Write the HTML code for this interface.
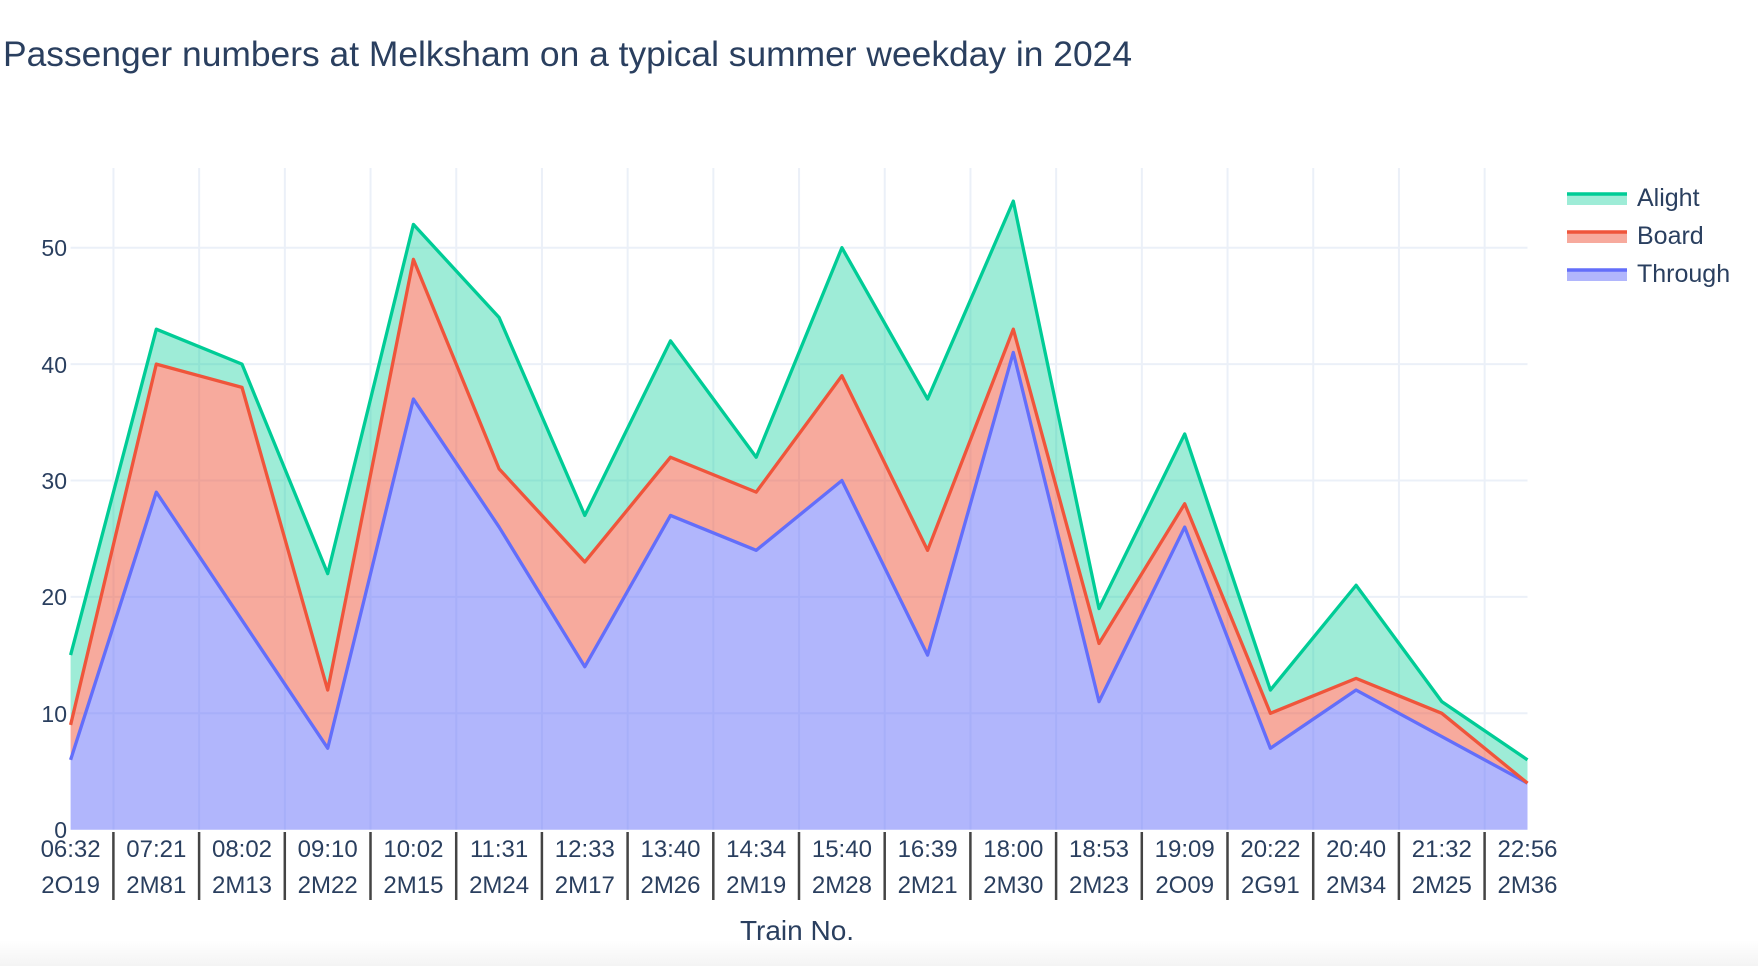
<!DOCTYPE html>
<html><head><meta charset="utf-8"><style>
html,body{margin:0;padding:0;background:#fff;}
body{width:1758px;height:966px;overflow:hidden;position:relative;font-family:"Liberation Sans",sans-serif;}
.bot{position:absolute;left:0;top:940px;width:1758px;height:26px;background:linear-gradient(#fff,#f4f4f4);}
</style></head><body>
<div class="bot"></div>
<svg width="1758" height="966" style="position:absolute;left:0;top:0" font-family="Liberation Sans, sans-serif" fill="#2a3f5f">
<text x="3" y="66" font-size="35" textLength="1129" lengthAdjust="spacingAndGlyphs">Passenger numbers at Melksham on a typical summer weekday in 2024</text>
<g transform="translate(70.6,829.7) scale(85.7,-11.64)">
<g stroke="#ebf0f8" stroke-width="2">
<line x1="0" x2="17" y1="10" y2="10" vector-effect="non-scaling-stroke"/>
<line x1="0" x2="17" y1="20" y2="20" vector-effect="non-scaling-stroke"/>
<line x1="0" x2="17" y1="30" y2="30" vector-effect="non-scaling-stroke"/>
<line x1="0" x2="17" y1="40" y2="40" vector-effect="non-scaling-stroke"/>
<line x1="0" x2="17" y1="50" y2="50" vector-effect="non-scaling-stroke"/>
<line x1="0.5" x2="0.5" y1="0" y2="56.85" vector-effect="non-scaling-stroke"/>
<line x1="1.5" x2="1.5" y1="0" y2="56.85" vector-effect="non-scaling-stroke"/>
<line x1="2.5" x2="2.5" y1="0" y2="56.85" vector-effect="non-scaling-stroke"/>
<line x1="3.5" x2="3.5" y1="0" y2="56.85" vector-effect="non-scaling-stroke"/>
<line x1="4.5" x2="4.5" y1="0" y2="56.85" vector-effect="non-scaling-stroke"/>
<line x1="5.5" x2="5.5" y1="0" y2="56.85" vector-effect="non-scaling-stroke"/>
<line x1="6.5" x2="6.5" y1="0" y2="56.85" vector-effect="non-scaling-stroke"/>
<line x1="7.5" x2="7.5" y1="0" y2="56.85" vector-effect="non-scaling-stroke"/>
<line x1="8.5" x2="8.5" y1="0" y2="56.85" vector-effect="non-scaling-stroke"/>
<line x1="9.5" x2="9.5" y1="0" y2="56.85" vector-effect="non-scaling-stroke"/>
<line x1="10.5" x2="10.5" y1="0" y2="56.85" vector-effect="non-scaling-stroke"/>
<line x1="11.5" x2="11.5" y1="0" y2="56.85" vector-effect="non-scaling-stroke"/>
<line x1="12.5" x2="12.5" y1="0" y2="56.85" vector-effect="non-scaling-stroke"/>
<line x1="13.5" x2="13.5" y1="0" y2="56.85" vector-effect="non-scaling-stroke"/>
<line x1="14.5" x2="14.5" y1="0" y2="56.85" vector-effect="non-scaling-stroke"/>
<line x1="15.5" x2="15.5" y1="0" y2="56.85" vector-effect="non-scaling-stroke"/>
<line x1="16.5" x2="16.5" y1="0" y2="56.85" vector-effect="non-scaling-stroke"/>
</g>
<polygon fill="rgba(99,110,250,0.5)" points="0,0 0,6 1,29 2,18 3,7 4,37 5,26 6,14 7,27 8,24 9,30 10,15 11,41 12,11 13,26 14,7 15,12 16,8 17,4 17,0"/>
<polygon fill="rgba(239,85,59,0.5)" points="0,9 1,40 2,38 3,12 4,49 5,31 6,23 7,32 8,29 9,39 10,24 11,43 12,16 13,28 14,10 15,13 16,10 17,4 17,4 16,8 15,12 14,7 13,26 12,11 11,41 10,15 9,30 8,24 7,27 6,14 5,26 4,37 3,7 2,18 1,29 0,6"/>
<polygon fill="rgba(0,204,150,0.38)" points="0,15 1,43 2,40 3,22 4,52 5,44 6,27 7,42 8,32 9,50 10,37 11,54 12,19 13,34 14,12 15,21 16,11 17,6 17,4 16,10 15,13 14,10 13,28 12,16 11,43 10,24 9,39 8,29 7,32 6,23 5,31 4,49 3,12 2,38 1,40 0,9"/>
<g fill="none" stroke-width="3.3" stroke-linejoin="round">
<polyline stroke="#636efa" vector-effect="non-scaling-stroke" points="0,6 1,29 2,18 3,7 4,37 5,26 6,14 7,27 8,24 9,30 10,15 11,41 12,11 13,26 14,7 15,12 16,8 17,4"/>
<polyline stroke="#ef553b" vector-effect="non-scaling-stroke" points="0,9 1,40 2,38 3,12 4,49 5,31 6,23 7,32 8,29 9,39 10,24 11,43 12,16 13,28 14,10 15,13 16,10 17,4"/>
<polyline stroke="#00cc96" vector-effect="non-scaling-stroke" points="0,15 1,43 2,40 3,22 4,52 5,44 6,27 7,42 8,32 9,50 10,37 11,54 12,19 13,34 14,12 15,21 16,11 17,6"/>
</g>
</g>
<g font-size="23" text-anchor="end">
<text x="67" y="838">0</text>
<text x="67" y="722">10</text>
<text x="67" y="605">20</text>
<text x="67" y="489">30</text>
<text x="67" y="373">40</text>
<text x="67" y="256">50</text>
</g>
<g stroke="#444" stroke-width="2.5">
<line x1="113.4" x2="113.4" y1="832" y2="900"/><line x1="199.1" x2="199.1" y1="832" y2="900"/><line x1="284.8" x2="284.8" y1="832" y2="900"/><line x1="370.5" x2="370.5" y1="832" y2="900"/><line x1="456.2" x2="456.2" y1="832" y2="900"/><line x1="541.9" x2="541.9" y1="832" y2="900"/><line x1="627.6" x2="627.6" y1="832" y2="900"/><line x1="713.3" x2="713.3" y1="832" y2="900"/><line x1="799" x2="799" y1="832" y2="900"/><line x1="884.7" x2="884.7" y1="832" y2="900"/><line x1="970.4" x2="970.4" y1="832" y2="900"/><line x1="1056.1" x2="1056.1" y1="832" y2="900"/><line x1="1141.8" x2="1141.8" y1="832" y2="900"/><line x1="1227.5" x2="1227.5" y1="832" y2="900"/><line x1="1313.2" x2="1313.2" y1="832" y2="900"/><line x1="1398.9" x2="1398.9" y1="832" y2="900"/><line x1="1484.6" x2="1484.6" y1="832" y2="900"/>
</g>
<g font-size="24" text-anchor="middle">
<text x="70.6" y="857">06:32</text><text x="70.6" y="893">2O19</text>
<text x="156.3" y="857">07:21</text><text x="156.3" y="893">2M81</text>
<text x="242" y="857">08:02</text><text x="242" y="893">2M13</text>
<text x="327.7" y="857">09:10</text><text x="327.7" y="893">2M22</text>
<text x="413.4" y="857">10:02</text><text x="413.4" y="893">2M15</text>
<text x="499.1" y="857">11:31</text><text x="499.1" y="893">2M24</text>
<text x="584.8" y="857">12:33</text><text x="584.8" y="893">2M17</text>
<text x="670.5" y="857">13:40</text><text x="670.5" y="893">2M26</text>
<text x="756.2" y="857">14:34</text><text x="756.2" y="893">2M19</text>
<text x="841.9" y="857">15:40</text><text x="841.9" y="893">2M28</text>
<text x="927.6" y="857">16:39</text><text x="927.6" y="893">2M21</text>
<text x="1013.3" y="857">18:00</text><text x="1013.3" y="893">2M30</text>
<text x="1099" y="857">18:53</text><text x="1099" y="893">2M23</text>
<text x="1184.7" y="857">19:09</text><text x="1184.7" y="893">2O09</text>
<text x="1270.4" y="857">20:22</text><text x="1270.4" y="893">2G91</text>
<text x="1356.1" y="857">20:40</text><text x="1356.1" y="893">2M34</text>
<text x="1441.8" y="857">21:32</text><text x="1441.8" y="893">2M25</text>
<text x="1527.5" y="857">22:56</text><text x="1527.5" y="893">2M36</text>
<text x="797" y="940" font-size="28">Train No.</text>
</g>
<g font-size="25">
<rect x="1567" y="193" width="60" height="12" fill="rgba(0,204,150,0.38)"/><line x1="1567" x2="1627" y1="194" y2="194" stroke="#00cc96" stroke-width="3.5"/>
<text x="1637" y="206">Alight</text>
<rect x="1567" y="231" width="60" height="12" fill="rgba(239,85,59,0.5)"/><line x1="1567" x2="1627" y1="232" y2="232" stroke="#ef553b" stroke-width="3.5"/>
<text x="1637" y="244">Board</text>
<rect x="1567" y="269" width="60" height="12" fill="rgba(99,110,250,0.5)"/><line x1="1567" x2="1627" y1="270" y2="270" stroke="#636efa" stroke-width="3.5"/>
<text x="1637" y="282">Through</text>
</g>
</svg>
</body></html>
